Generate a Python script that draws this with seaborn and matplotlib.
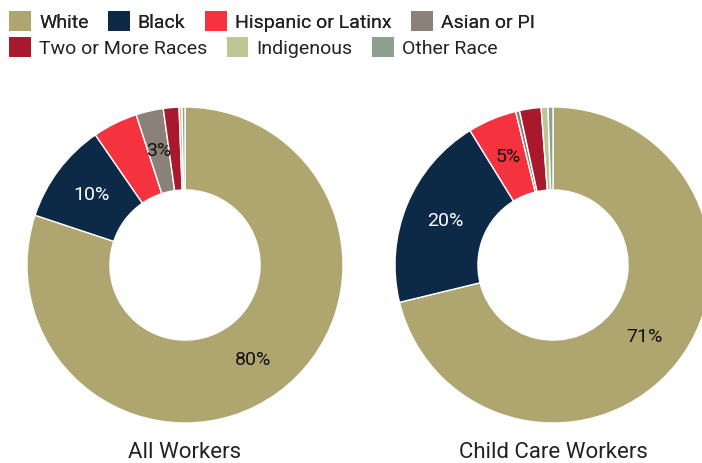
import matplotlib
matplotlib.use("Agg")
import numpy as np
import matplotlib.pyplot as plt
import seaborn as sns
from matplotlib.patches import Patch

# data (percent of workers)
races = ["White", "Black", "Hispanic or Latinx", "Asian or PI",
         "Two or More Races", "Indigenous", "Other Race"]
all_workers = [80.1, 10.3, 4.6, 2.8, 1.6, 0.3, 0.3]
child_care = [71.2, 20.0, 5.0, 0.4, 2.2, 0.7, 0.5]
titles = ["All Workers", "Child Care Workers"]
# which slices carry a percent label in each donut
labeled_all = ["White", "Black", "Asian or PI"]
labeled_child = ["White", "Black", "Hispanic or Latinx"]

colors = sns.color_palette(["#AFA66F", "#0C2947", "#F4333F", "#8B8179",
                            "#A8192E", "#BEC793", "#8FA091"])
label_colors = {"Black": "white"}

sns.set_theme(style="white")
plt.rcParams["font.family"] = ["Roboto", "DejaVu Sans"]

W, H = 702, 463
fig = plt.figure(figsize=(W / 100, H / 100), dpi=100)

R_PX = 158
centers = [(185, 265), (553, 265)]


def donut(ax, values, labeled):
    ax.pie(values, colors=colors, startangle=90, counterclock=False, radius=1.0,
           wedgeprops=dict(width=0.525, edgecolor="white", linewidth=1))
    total = sum(values)
    start = 90.0
    for race, v in zip(races, values):
        sweep = 360.0 * v / total
        mid = start - sweep / 2
        start -= sweep
        if race not in labeled:
            continue
        r = 0.74
        x, y = r * np.cos(np.radians(mid)), r * np.sin(np.radians(mid))
        ax.text(x, y, f"{round(v)}%", ha="center", va="center", fontsize=14,
                color=label_colors.get(race, "#111111"))
    ax.set_xlim(-1, 1)
    ax.set_ylim(-1, 1)
    ax.set_aspect("equal")
    ax.axis("off")


for (cx, cy), vals, lab, title in zip(centers, [all_workers, child_care],
                                      [labeled_all, labeled_child], titles):
    ax = fig.add_axes([(cx - R_PX) / W, (H - cy - R_PX) / H, 2 * R_PX / W, 2 * R_PX / H])
    donut(ax, vals, lab)
    fig.text(cx / W, (H - 452) / H, title, ha="center", va="center",
             fontsize=16, color="#222222")

handles = [Patch(facecolor=c, edgecolor="none") for c in colors]
leg_kw = dict(frameon=False, fontsize=14, handlelength=1.12, handleheight=1.2,
              handletextpad=0.42, columnspacing=1.0, borderaxespad=0,
              borderpad=0, labelcolor="#222222")
leg1 = fig.legend(handles[:4], races[:4], ncol=4, loc="upper left",
                  bbox_to_anchor=(9 / W, 1 - 11 / H), **leg_kw)
fig.add_artist(leg1)
fig.legend(handles[4:], races[4:], ncol=3, loc="upper left",
           bbox_to_anchor=(9 / W, 1 - 37 / H), **leg_kw)

fig.savefig("out.png", dpi=100)
